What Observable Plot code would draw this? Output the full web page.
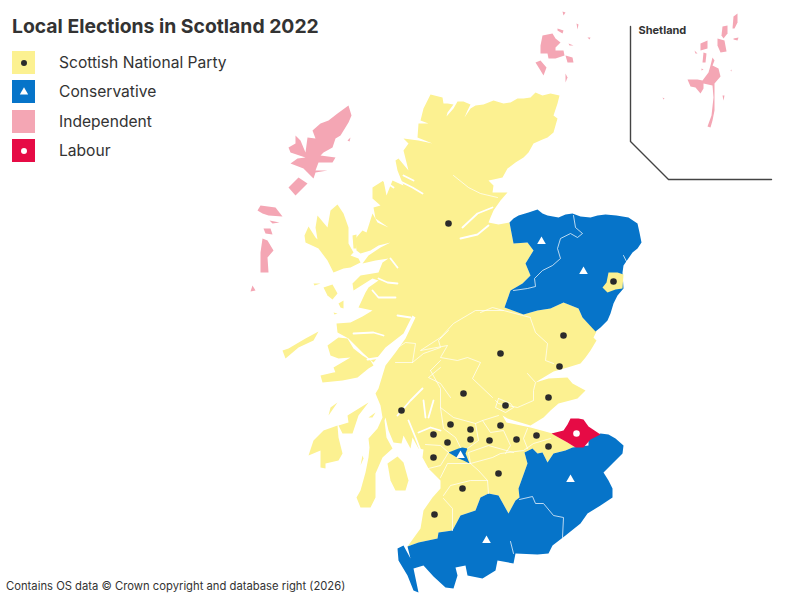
<!DOCTYPE html>
<html><head><meta charset="utf-8">
<script src="https://cdn.jsdelivr.net/npm/d3@7"></script>
<script src="https://cdn.jsdelivr.net/npm/@observablehq/plot@0.6"></script>
<style>
html,body{margin:0;background:#fff}
#wrap{position:relative;width:800px;height:600px;overflow:hidden;font-family:Inter,"Open Sans",sans-serif;color:#333}
#title{position:absolute;left:12px;top:14px;font-size:19.35px;font-weight:700;white-space:nowrap}
#legend{position:absolute;left:12px;top:51px}
.row{position:relative;height:29.4px;width:240px}
.sw{position:absolute;left:0;top:0;width:23px;height:23px;display:flex;align-items:center;justify-content:center}
.lab{position:absolute;left:47px;top:2px;font-size:15.6px;line-height:20px;white-space:nowrap}
#note{position:absolute;left:6px;top:578px;font-size:11.25px;line-height:16px;white-space:nowrap}
svg.plot{position:absolute;left:0;top:0}
</style></head><body><div id="wrap">
<div id="chart"></div>
<div id="title">Local Elections in Scotland 2022</div>
<div id="legend"></div>
<div id="note">Contains OS data © Crown copyright and database right (2026)</div>
</div>
<script>
const parties = ["Scottish National Party","Conservative","Independent","Labour"];
const partyColors = ["#fcf191","#0674c9","#f4a6b4","#e60b45"];
const markColors = ["#2b2b2b","#ffffff",null,"#ffffff"];
const markSymbols = ["circle","triangle",null,"circle"];

const snpMainland = [[[430,94],[434,95],[442,97],[443,103],[447,103],[453,104],[447,112],[446,116],[453,108],[457,101],[463,101],[470,104],[467,110],[464,117],[470,108],[475,105],[483,104],[493,100],[503,103],[510,102],[517,98],[523,98],[530,97],[535,92],[542,95],[550,93],[559,95],[557,103],[553,115],[557,118],[553,132],[547,137],[542,139],[533,143],[528,152],[523,157],[515,162],[507,168],[502,177],[493,179],[488,180],[493,185],[492,192],[507,192],[500,200],[493,210],[490,217],[488,222],[498,224],[509,222],[513,243],[527,242],[533,250],[525,263],[530,275],[522,283],[510,290],[504,307],[523,314],[537,310],[550,308],[563,302],[578,308],[582,317],[596,331],[593,337],[596,340],[590,350],[585,357],[580,363],[567,367],[553,371],[538,380],[535,382],[548,378],[567,377],[572,383],[585,390],[577,398],[558,403],[550,410],[543,417],[530,425],[507,418],[502,415],[506,422],[530,427],[552,433],[558,437],[567,442],[575,447],[572,447],[565,450],[553,453],[547,462],[542,452],[537,453],[532,448],[524,452],[527,463],[518,488],[519,497],[515,500],[508,513],[498,495],[488,493],[480,497],[475,510],[460,515],[452,530],[438,532],[437,538],[418,542],[407,546],[420,528],[423,510],[432,497],[440,488],[440,480],[428,468],[422,457],[423,449],[418,448],[412,437],[410,448],[403,435],[401,443],[393,442],[388,430],[385,417],[384,420],[386,437],[392,448],[382,457],[375,473],[375,497],[370,507],[360,507],[356,497],[360,490],[365,472],[368,457],[369,447],[368,438],[377,428],[382,417],[380,405],[375,393],[378,388],[385,365],[395,352],[405,338],[415,317],[412,315],[403,333],[385,347],[373,362],[363,353],[348,338],[337,332],[336,323],[350,322],[362,316],[372,310],[358,307],[365,292],[368,287],[378,280],[372,278],[353,290],[352,283],[360,275],[378,272],[382,262],[388,258],[375,260],[362,263],[368,255],[380,247],[390,242],[378,245],[370,250],[360,253],[356,250],[355,238],[362,230],[366,232],[372,213],[377,222],[388,227],[375,218],[373,207],[380,205],[372,198],[372,187],[383,180],[386,195],[392,180],[403,185],[397,170],[395,160],[398,158],[408,170],[403,150],[408,143],[403,138],[418,140],[432,143],[417,137],[418,123],[428,123],[420,120],[423,108]]];
const snpIslands = [
[[304,235],[308,226],[315,237],[317,239],[315,227],[317,215],[327,227],[330,210],[337,204],[343,213],[348,227],[348,243],[353,252],[350,255],[358,258],[360,262],[350,267],[343,268],[333,272],[327,260],[318,248],[305,242]],
[[352,235],[356,234],[356,248],[353,248]],
[[327,345],[338,337],[347,338],[353,348],[362,355],[370,360],[373,365],[368,368],[357,377],[342,380],[322,382],[320,375],[333,372],[347,370],[335,372],[333,367],[350,357],[338,358],[330,355]],
[[323,430],[337,425],[338,437],[342,453],[338,460],[325,463],[325,468],[320,467],[320,450],[308,455],[313,440]],
[[347,415],[368,402],[358,415],[352,433],[342,433],[338,425],[348,422]],
[[328,415],[337,402],[330,407]],
[[282,350],[288,348],[305,338],[318,331],[313,340],[298,347],[285,358]],
[[323,287],[332,284],[337,293],[332,299],[327,295]],
[[338,303],[343,300],[343,308],[340,307]],
[[313,283],[320,283],[314,285]],
[[333,312],[337,313],[334,314]],
[[387,463],[397,456],[403,462],[408,480],[405,490],[395,490],[390,480]],
[[362,455],[363,458],[360,465]],
[[368,417],[375,412],[372,417]]
];
const conservativeRings = [
[[509,222],[513,218],[518,215],[528,212],[537,209],[542,213],[547,215],[558,217],[565,214],[572,213],[580,216],[590,217],[597,215],[605,214],[616,215],[628,217],[637,223],[639,232],[641,242],[637,248],[632,252],[623,265],[622,272],[623,288],[617,295],[613,303],[610,313],[607,320],[600,327],[595,331],[582,317],[578,308],[563,302],[550,308],[537,310],[523,314],[504,307],[510,290],[522,283],[530,275],[525,263],[533,250],[527,242],[513,243]],
[[600,433],[608,434],[615,438],[623,445],[622,453],[613,462],[603,472],[608,480],[612,488],[612,497],[600,505],[587,513],[580,523],[565,535],[552,545],[548,553],[537,554],[515,553],[513,563],[497,560],[495,570],[482,578],[477,577],[467,575],[465,565],[455,567],[457,575],[453,588],[445,587],[433,576],[423,565],[413,568],[418,592],[413,590],[407,575],[398,560],[397,548],[403,545],[410,558],[407,546],[418,542],[437,538],[438,532],[452,530],[460,515],[475,510],[480,497],[488,493],[498,495],[508,513],[515,500],[519,497],[518,488],[527,463],[524,452],[532,448],[537,453],[542,452],[547,462],[553,453],[565,450],[572,447],[588,445],[588,438]],
[[448,452],[458,448],[462,447],[467,448],[465,453],[469,463],[463,460],[458,458]]
];
const independentRings = [
[[348,105],[351,115],[348,122],[340,135],[335,138],[332,147],[323,152],[320,155],[335,157],[332,162],[318,162],[315,170],[327,170],[315,172],[313,178],[303,168],[290,163],[297,158],[305,157],[290,152],[288,147],[295,143],[295,135],[300,140],[305,152],[307,137],[315,138],[312,130],[320,123],[328,120],[337,113]],
[[288,187],[298,177],[307,183],[295,195]],
[[257,210],[260,205],[275,207],[282,216],[268,215],[262,213]],
[[269,220],[279,222],[272,223]],
[[263,228],[270,228],[272,234],[265,233]],
[[262,238],[267,240],[273,250],[267,257],[268,272],[260,272],[260,252]],
[[252,285],[255,290],[250,291]],
[[347,140],[350,137],[349,141]],
[[542,35],[552,33],[555,38],[560,42],[555,47],[555,50],[563,50],[564,55],[555,58],[548,58],[547,53],[540,53],[540,45]],
[[535,62],[540,60],[546,67],[543,75],[540,70]],
[[565,73],[567,77],[565,82]],
[[557,28],[563,30],[562,33],[557,30]],
[[565,55],[572,57],[573,62],[567,62]],
[[562,11],[565,12],[563,15]],
[[568,43],[573,45],[569,45]],
[[576,23],[578,24],[577,29]],
[[587,37],[590,37],[589,39]],
[[687,79],[697,79],[702,80],[708,72],[710,65],[712,57],[714,60],[712,65],[718,68],[720,76],[714,83],[714,97],[714,110],[712,120],[710,127],[707,126],[711,115],[713,97],[712,85],[703,83],[703,88],[700,93],[695,87],[690,86]],
[[717,38],[724,40],[726,51],[720,52],[717,45]],
[[733,16],[737,13],[737,22],[734,28],[732,28]],
[[722,26],[727,25],[727,33],[723,38],[721,35]],
[[700,43],[707,40],[707,48],[700,50]],
[[703,52],[706,53],[705,62],[702,62]],
[[733,38],[738,37],[737,40],[733,39]],
[[694,50],[697,53],[695,53]],
[[662,97],[664,98],[663,99]],
[[722,95],[724,95],[723,100]],
[[701,68],[703,69],[701,70]],
[[730,70],[731,69],[731,71]]
];
const aberdeenCity = [[[602,287],[606,282],[608,272],[617,272],[623,274],[622,288],[615,289],[607,292]]];
const labourRings = [[[551,433],[563,430],[567,424],[570,418],[578,418],[583,419],[588,426],[600,434],[590,439],[583,447],[575,447],[567,442],[558,437]]];

const lochs = [
[[462,227],[477,213],[492,207]],
[[460,238],[477,234],[488,225]],
[[397,415],[410,400],[422,388]],
[[423,400],[425,417]],
[[433,400],[428,417]],
[[408,420],[415,437],[420,450]],
[[418,432],[430,427],[440,430]],
[[383,180],[393,187]],
[[398,180],[412,187],[422,193]],
[[403,175],[413,180]],
[[372,290],[378,297],[395,297]],
[[378,278],[387,282],[397,283]],
[[390,258],[397,267]],
[[397,315],[410,317]],
[[353,333],[373,332],[383,335]],
[[367,359],[380,357],[390,352]]
];
const boundaries = [
[[513,290],[527,288],[535,286],[534,278],[542,270],[552,265],[560,258],[557,248],[560,238],[570,233],[577,237],[582,233],[575,227],[573,215]],
[[623,255],[627,263]],
[[453,175],[468,187],[480,193],[497,197]],
[[480,312],[492,307],[503,310]],
[[440,337],[453,323],[475,310],[503,310],[530,317]],
[[530,318],[535,332],[547,343],[545,360],[553,363]],
[[527,373],[535,382],[533,390],[533,400],[517,407],[498,403],[495,400]],
[[498,398],[510,403],[513,407],[505,412],[495,407],[498,398]],
[[440,337],[420,350],[447,345],[440,357],[457,360],[467,357],[480,362],[472,378],[492,397]],
[[430,370],[440,360]],
[[430,370],[440,388],[440,407],[453,417],[475,423],[482,420],[498,415]],
[[448,330],[438,340],[440,347],[423,353],[412,362],[395,362]],
[[412,362],[415,343],[405,342],[393,350]],
[[440,367],[428,377],[440,383],[450,397]],
[[440,407],[443,428],[455,437],[460,447]],
[[475,423],[478,440],[467,448]],
[[482,420],[490,432],[503,430],[510,445],[505,453]],
[[527,428],[523,438],[527,448]],
[[550,438],[533,443],[523,450],[500,453],[492,457],[470,463]],
[[470,463],[468,452],[488,445],[513,452]],
[[440,477],[447,463],[470,463]],
[[443,495],[450,485],[470,480],[487,480],[488,493]],
[[470,463],[478,470],[487,480]],
[[443,498],[452,508],[452,530]],
[[425,444],[440,445],[448,452]],
[[428,468],[440,465],[448,452]]
];
const blueBoundaries = [
[[519,499],[532,496],[535,503],[543,503],[553,515],[563,517],[562,537]],
[[510,541],[513,553]]
];
const insetFrame = [[630,26],[630,141],[668,179],[771,179]];
const insetLabel = [{name:"Shetland",x:638,y:30}];

const councilMarks = [
 {x:448,y:223,party:0},{x:613,y:281,party:0},{x:563,y:335,party:0},{x:559,y:366,party:0},
 {x:500,y:353,party:0},{x:548,y:397,party:0},{x:463,y:393,party:0},{x:505,y:405,party:0},
 {x:401,y:410,party:0},{x:450,y:424,party:0},{x:470,y:429,party:0},{x:500,y:425,party:0},
 {x:433,y:434,party:0},{x:447,y:442,party:0},{x:470,y:439,party:0},{x:489,y:440,party:0},
 {x:516,y:439,party:0},{x:536,y:435,party:0},{x:548,y:446,party:0},{x:433,y:457,party:0},
 {x:498,y:473,party:0},{x:462,y:488,party:0},{x:434,y:514,party:0},
 {x:541,y:241,party:1},{x:583,y:271,party:1},{x:570,y:479,party:1},{x:486,y:540,party:1},{x:460,y:455,party:1},
 {x:576,y:433,party:3}
];

const poly = (rings, party) => rings.map(r => ({type:"Feature",properties:{party},geometry:{type:"Polygon",coordinates:[[...r,r[0]]]}}));
const lines = (ls) => ({type:"MultiLineString",coordinates:ls});
const mapUnits = d3.geoIdentity();

const chart = Plot.plot({
  width:800,height:600,margin:0,
  projection: mapUnits,
  color:{domain:parties,range:partyColors},
  marks:[
    Plot.geo(poly(snpMainland,parties[0]).concat(poly(snpIslands,parties[0])),{fill:d=>d.properties.party}),
    Plot.geo([lines(lochs)],{stroke:"#fff",strokeWidth:1.8,strokeLinejoin:"round"}),
    Plot.geo(poly(independentRings,parties[2]),{fill:d=>d.properties.party}),
    Plot.geo(poly(conservativeRings,parties[1]),{fill:d=>d.properties.party}),
    Plot.geo(poly(aberdeenCity,parties[0]),{fill:d=>d.properties.party}),
    Plot.geo(poly(labourRings,parties[3]),{fill:d=>d.properties.party}),
    Plot.geo([lines(boundaries)],{stroke:"#fff",strokeWidth:.8,strokeOpacity:.9}),
    Plot.geo([lines(blueBoundaries)],{stroke:"#cfe3f5",strokeWidth:.9}),
    Plot.geo([{type:"LineString",coordinates:insetFrame}],{stroke:"#444",strokeWidth:1.4}),
    Plot.dot(councilMarks.filter(d=>d.party===0),{x:"x",y:"y",r:3.3,symbol:()=>"circle",fill:markColors[0]}),
    Plot.dot(councilMarks.filter(d=>d.party===1),{x:"x",y:"y",r:3.2,symbol:()=>"triangle",fill:markColors[1]}),
    Plot.dot(councilMarks.filter(d=>d.party===3),{x:"x",y:"y",r:3.3,symbol:()=>"circle",fill:markColors[3]}),
    Plot.text(insetLabel,{x:"x",y:"y",text:"name",textAnchor:"start",fontSize:11,fontWeight:700,fill:"#333",fontFamily:"Inter,'Open Sans',sans-serif"})
  ]
});
document.getElementById("chart").append(chart);

const legend = document.getElementById("legend");
parties.forEach((p,i)=>{
  const row=document.createElement("div");row.className="row";
  const sw=document.createElement("div");sw.className="sw";sw.style.background=partyColors[i];
  if(markSymbols[i]){
    const s=d3.create("svg").attr("width",10).attr("height",10).attr("viewBox","-5 -5 10 10");
    s.append("path").attr("d",d3.symbol(markSymbols[i]==="circle"?d3.symbolCircle:d3.symbolTriangle,markSymbols[i]==="circle"?28:30)()).attr("fill",markColors[i]);
    sw.append(s.node());
  }
  const l=document.createElement("div");l.className="lab";l.textContent=p;
  row.append(sw,l);legend.append(row);
});
</script></body></html>
